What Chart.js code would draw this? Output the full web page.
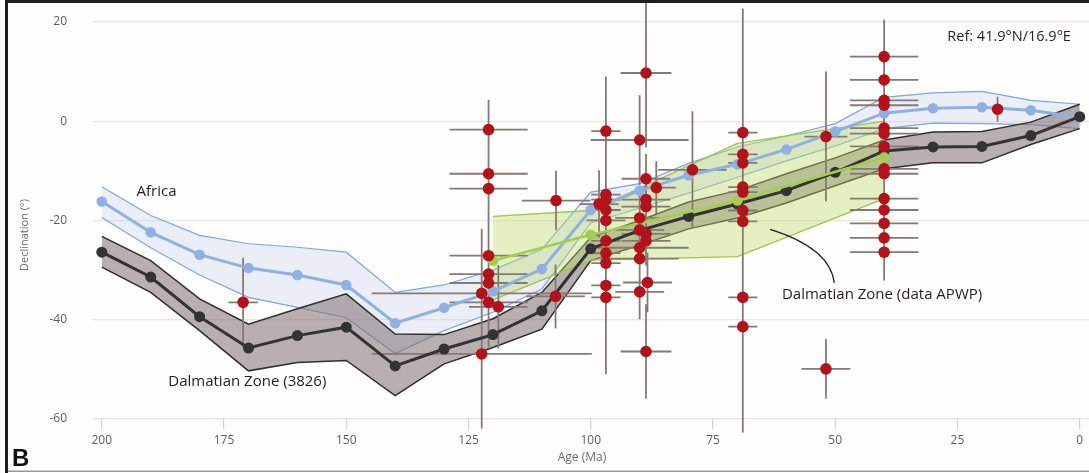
<!DOCTYPE html>
<html>
<head>
<meta charset="utf-8">
<title>Declination vs Age</title>
<script src="https://cdn.jsdelivr.net/npm/chart.js@4.4.1/dist/chart.umd.min.js"></script>
<style>
  html, body { margin: 0; padding: 0; background: #fdfdfb; }
  canvas { display: block; }
</style>
</head>
<body>
<canvas id="chart" width="1089" height="473"></canvas>
<script>
// ---- Apparent polar wander paths (declination, degrees) every 10 Ma ----
const apwpAges = [200, 190, 180, 170, 160, 150, 140, 130, 120, 110, 100, 90, 80, 70, 60, 50, 40, 30, 20, 10, 0];

const africaDec   = [-16.2, -22.4, -26.9, -29.6, -31.0, -33.0, -40.7, -37.6, -34.3, -29.8, -17.9, -14.0, -10.9, -8.7, -5.7, -2.1, 1.6, 2.6, 2.8, 2.2, 0.8];
const africaUpper = [-13.2, -19.0, -23.0, -24.7, -25.4, -26.4, -34.5, -33.0, -30.0, -25.8, -14.3, -12.6, -8.5, -5.2, -3.0, -0.5, 4.8, 5.7, 6.0, 4.2, 3.4];
const africaLower = [-19.4, -25.5, -31.0, -35.5, -37.5, -39.6, -46.8, -42.2, -38.5, -33.8, -20.5, -17.5, -14.5, -11.3, -8.0, -5.0, -1.5, -0.4, -0.5, -0.7, -1.5];

const dalmatianDec   = [-26.4, -31.4, -39.4, -45.7, -43.2, -41.5, -49.3, -45.9, -43.0, -38.2, -25.7, -22.0, -19.2, -16.7, -14.0, -10.3, -6.0, -5.2, -5.1, -2.9, 0.9];
const dalmatianUpper = [-23.2, -28.1, -35.8, -40.9, -37.8, -34.8, -42.9, -43.0, -39.8, -34.5, -23.4, -20.0, -16.3, -14.0, -10.6, -7.4, -3.8, -2.2, -2.1, -0.2, 3.4];
const dalmatianLower = [-29.4, -34.5, -42.2, -50.3, -48.6, -48.2, -55.3, -48.9, -45.6, -41.9, -28.1, -25.0, -21.7, -19.5, -16.5, -13.0, -9.6, -8.4, -8.4, -4.7, -1.5];

// ---- Dalmatian Zone path computed from the site data ----
const dataApwpAges  = [120, 100, 70, 40];
const dataApwpDec   = [-28.1, -22.9, -16.0, -7.3];
const dataApwpUpper = [-19.2, -18.0, -4.5, 0.0];
const dataApwpLower = [-36.0, -28.0, -27.3, -15.6];

// ---- Individual palaeomagnetic sites: age (Ma), declination, and their uncertainties ----
const siteAge = [
  171.1,
  120.9, 120.9, 120.9, 120.9, 120.9, 120.9, 120.9, 122.3, 122.3, 118.9,
  107.1, 107.2,
  96.9, 96.9, 96.9, 98.3, 96.9, 96.9, 96.9, 96.9, 96.9, 96.9, 96.9,
  88.7, 90.0, 88.7, 86.6, 88.7, 88.7, 90.0, 90.0, 88.7, 88.7, 90.0, 90.0, 88.4, 90.0, 88.7,
  79.2,
  68.9, 68.9, 68.9, 68.9, 68.9, 68.9, 68.9, 68.9, 68.9,
  51.9, 51.9,
  16.8,
  40.0, 40.0, 40.0, 40.0, 40.0, 40.0, 40.0, 40.0, 40.0, 40.0, 40.0, 40.0, 40.0, 40.0
];
const siteDec = [
  -36.5,
  -1.7, -10.6, -13.6, -27.1, -30.8, -32.6, -36.5, -34.7, -46.9, -37.4,
  -16.0, -35.3,
  -2.0, -14.8, -15.8, -16.7, -17.9, -20.0, -24.1, -26.6, -28.6, -33.1, -35.5,
  9.7, -3.8, -11.6, -13.4, -15.8, -17.2, -19.5, -21.9, -22.7, -24.1, -25.5, -27.7, -32.5, -34.4, -46.4,
  -9.8,
  -2.3, -6.7, -8.4, -13.3, -14.3, -18.0, -20.2, -35.5, -41.4,
  -3.1, -49.9,
  2.4,
  13.0, 8.3, 4.2, 3.2, -1.4, -2.5, -5.1, -9.6, -10.6, -15.6, -17.9, -20.6, -23.5, -26.4
];
const siteAgeErr = [
  3,
  8, 8, 8, 8, 8, 8, 8, 22.5, 22.5, 6,
  7, 6,
  3, 3, 3, 4, 3, 4, 3, 3, 3, 3, 3,
  5.2, 10, 5, 4, 5, 5, 5, 5, 5, 5, 10, 8, 5, 5, 5.2,
  7,
  3, 3, 3, 3, 3, 3, 3, 3, 3,
  4.4, 5,
  0.8,
  7, 7, 7, 7, 7, 7, 7, 7, 7, 7, 7, 7, 7, 7
];
const siteDecErr = [
  9,
  6, 5, 6, 8, 6, 8, 9, 13, 15, 8.4,
  6, 6.4,
  11, 3, 3, 6.8, 4, 4, 4, 5, 5, 6, 15.5,
  15, 9, 5, 5.3, 4, 4, 5, 5, 5, 5, 5, 6, 6, 5.5, 9.5,
  11.8,
  25, 4, 4, 4, 4, 4, 5, 6, 21.3,
  13.1, 6,
  2.5,
  7.5, 4, 4, 4, 4, 4, 4, 4, 4, 4, 4, 4, 4, 5.7
];

// ---- Axis ticks ----
const ageTicks = [200, 175, 150, 125, 100, 75, 50, 25, 0];
const declinationTicks = [20, 0, -20, -40, -60];

// ---- helpers ----
const toPoints = (xs, ys) => xs.map((x, i) => ({ x: x, y: ys[i] }));

// cross-shaped error bars, one gap-separated segment per bar
const errorBarPoints = [];
siteAge.forEach((a, i) => {
  const d = siteDec[i], ea = siteAgeErr[i], ed = siteDecErr[i];
  errorBarPoints.push({ x: a - ea, y: d }, { x: a + ea, y: d }, { x: a, y: null });
  errorBarPoints.push({ x: a, y: d + ed }, { x: a, y: d - ed }, { x: a, y: null });
});

const FONT = '"Open Sans", "DejaVu Sans", sans-serif';

const bandLine = (label, data, color, width, fill, order, fillColor) => ({
  label, data, order,
  borderColor: color, borderWidth: width,
  backgroundColor: fillColor || 'transparent',
  fill: fill, pointRadius: 0, tension: 0
});

const pathLine = (label, data, color, width, radius, order) => ({
  label, data, order,
  borderColor: color, borderWidth: width,
  pointBackgroundColor: color, pointBorderWidth: 0, pointRadius: radius,
  fill: false, tension: 0
});

// text labels and leader line, placed in data coordinates
const labels = [
  { text: 'Africa', age: 192.9, dec: -14.2, align: 'left', size: 15 },
  { text: 'Dalmatian Zone (3826)', age: 186.4, dec: -52.5, align: 'left', size: 15 },
  { text: 'Dalmatian Zone (data APWP)', age: 60.9, dec: -35.0, align: 'left', size: 15 },
  { text: 'Ref: 41.9°N/16.9°E', age: 1.8, dec: 17.0, align: 'right', size: 14.5 }
];
const leader = { start: [63.3, -21.8], control: [51.0, -25.6], end: [50.2, -32.6] };

const decorations = {
  id: 'decorations',
  beforeDraw(chart) {
    const ctx = chart.ctx;
    ctx.save();
    ctx.fillStyle = '#fdfdfb';
    ctx.fillRect(0, 0, chart.width, chart.height);
    ctx.restore();
  },
  afterDraw(chart) {
    const ctx = chart.ctx;
    const xs = chart.scales.x, ys = chart.scales.y;
    ctx.save();
    // labels
    ctx.fillStyle = '#231f20';
    ctx.textBaseline = 'middle';
    labels.forEach(l => {
      ctx.font = l.size + 'px ' + FONT;
      ctx.textAlign = l.align;
      ctx.fillText(l.text, xs.getPixelForValue(l.age), ys.getPixelForValue(l.dec));
    });
    // leader line
    ctx.strokeStyle = '#231f20';
    ctx.lineWidth = 1.2;
    ctx.beginPath();
    ctx.moveTo(xs.getPixelForValue(leader.start[0]), ys.getPixelForValue(leader.start[1]));
    ctx.quadraticCurveTo(xs.getPixelForValue(leader.control[0]), ys.getPixelForValue(leader.control[1]),
                         xs.getPixelForValue(leader.end[0]), ys.getPixelForValue(leader.end[1]));
    ctx.stroke();
    // axis titles
    ctx.fillStyle = '#6a6a6a';
    ctx.font = '12px ' + FONT;
    ctx.textAlign = 'center';
    ctx.fillText('Age (Ma)', 582, 458);
    ctx.save();
    ctx.translate(25, 235);
    ctx.rotate(-Math.PI / 2);
    ctx.font = '11px ' + FONT;
    ctx.fillText('Declination (°)', 0, 0);
    ctx.restore();
    // panel frame and letter
    ctx.fillStyle = '#1f1f1f';
    ctx.fillRect(5, 0, chart.width - 5, 3);
    ctx.fillRect(5, 0, 3, chart.height);
    ctx.fillStyle = '#9a9a9a';
    ctx.fillRect(8, 470.5, chart.width - 8, 1.5);
    ctx.fillStyle = '#111';
    ctx.font = 'bold 24px "Liberation Sans", Arial, sans-serif';
    ctx.textAlign = 'left';
    ctx.textBaseline = 'alphabetic';
    ctx.fillText('B', 12, 466);
    ctx.restore();
  }
};

new Chart(document.getElementById('chart'), {
  type: 'line',
  data: {
    datasets: [
      // sites on top
      { label: 'Sites', data: toPoints(siteAge, siteDec), order: 0, showLine: false,
        pointRadius: 5.8, pointBackgroundColor: '#b3121a', pointBorderWidth: 0 },
      pathLine('Dalmatian Zone (data APWP)', toPoints(dataApwpAges, dataApwpDec), '#a5cd4f', 2.6, 5.3, 1),
      pathLine('Dalmatian Zone (3826)', toPoints(apwpAges, dalmatianDec), '#333333', 3, 5.5, 2),
      pathLine('Africa', toPoints(apwpAges, africaDec), '#8db1e3', 3, 5.3, 3),
      { label: 'Uncertainty', data: errorBarPoints, order: 4, borderColor: '#857a75', borderWidth: 1.8,
        pointRadius: 0, spanGaps: false, fill: false, clip: false, tension: 0 },
      // envelopes: upper boundary fills to the following (lower) boundary
      bandLine('Data APWP upper', toPoints(dataApwpAges, dataApwpUpper), '#9bc64a', 1.3, '+1', 6, 'rgba(190,220,110,0.40)'),
      bandLine('Data APWP lower', toPoints(dataApwpAges, dataApwpLower), '#9bc64a', 1.3, false, 5),
      bandLine('Dalmatian upper', toPoints(apwpAges, dalmatianUpper), '#2e2e2e', 1.5, '+1', 8, 'rgba(128,112,112,0.55)'),
      bandLine('Dalmatian lower', toPoints(apwpAges, dalmatianLower), '#2e2e2e', 1.5, false, 7),
      bandLine('Africa upper', toPoints(apwpAges, africaUpper), '#7ea6df', 1.2, '+1', 10, 'rgba(190,198,238,0.28)'),
      bandLine('Africa lower', toPoints(apwpAges, africaLower), '#7ea6df', 1.2, false, 9)
    ]
  },
  options: {
    responsive: false,
    animation: false,
    events: [],
    layout: { autoPadding: false, padding: { left: 8, top: 2, right: 0, bottom: 0 } },
    plugins: { legend: { display: false }, tooltip: { enabled: false } },
    scales: {
      x: {
        type: 'linear', reverse: true, min: -1.9, max: 201.8,
        afterBuildTicks: s => { s.ticks = ageTicks.map(v => ({ value: v })); },
        afterFit: s => { s.height = 54; s.paddingLeft = 0; s.paddingRight = 0; },
        ticks: { font: { family: FONT, size: 12 }, color: '#5e5e5e', padding: 4, maxRotation: 0, autoSkip: false },
        grid: { drawOnChartArea: false, drawTicks: true, tickLength: 10, color: '#c8d3ea', lineWidth: 1.2 },
        border: { display: false }
      },
      y: {
        type: 'linear', min: -60, max: 24,
        afterBuildTicks: s => { s.ticks = declinationTicks.map(v => ({ value: v })); },
        afterFit: s => { s.width = 85; s.paddingTop = 0; s.paddingBottom = 0; },
        ticks: { font: { family: FONT, size: 12 }, color: '#5e5e5e', padding: 26 },
        grid: { drawTicks: false, color: ctx => (ctx.tick && ctx.tick.value === -60 ? '#f0dfdb' : '#ebe7de'), lineWidth: 1.2 },
        border: { display: false }
      }
    }
  },
  plugins: [decorations]
});
</script>
</body>
</html>
